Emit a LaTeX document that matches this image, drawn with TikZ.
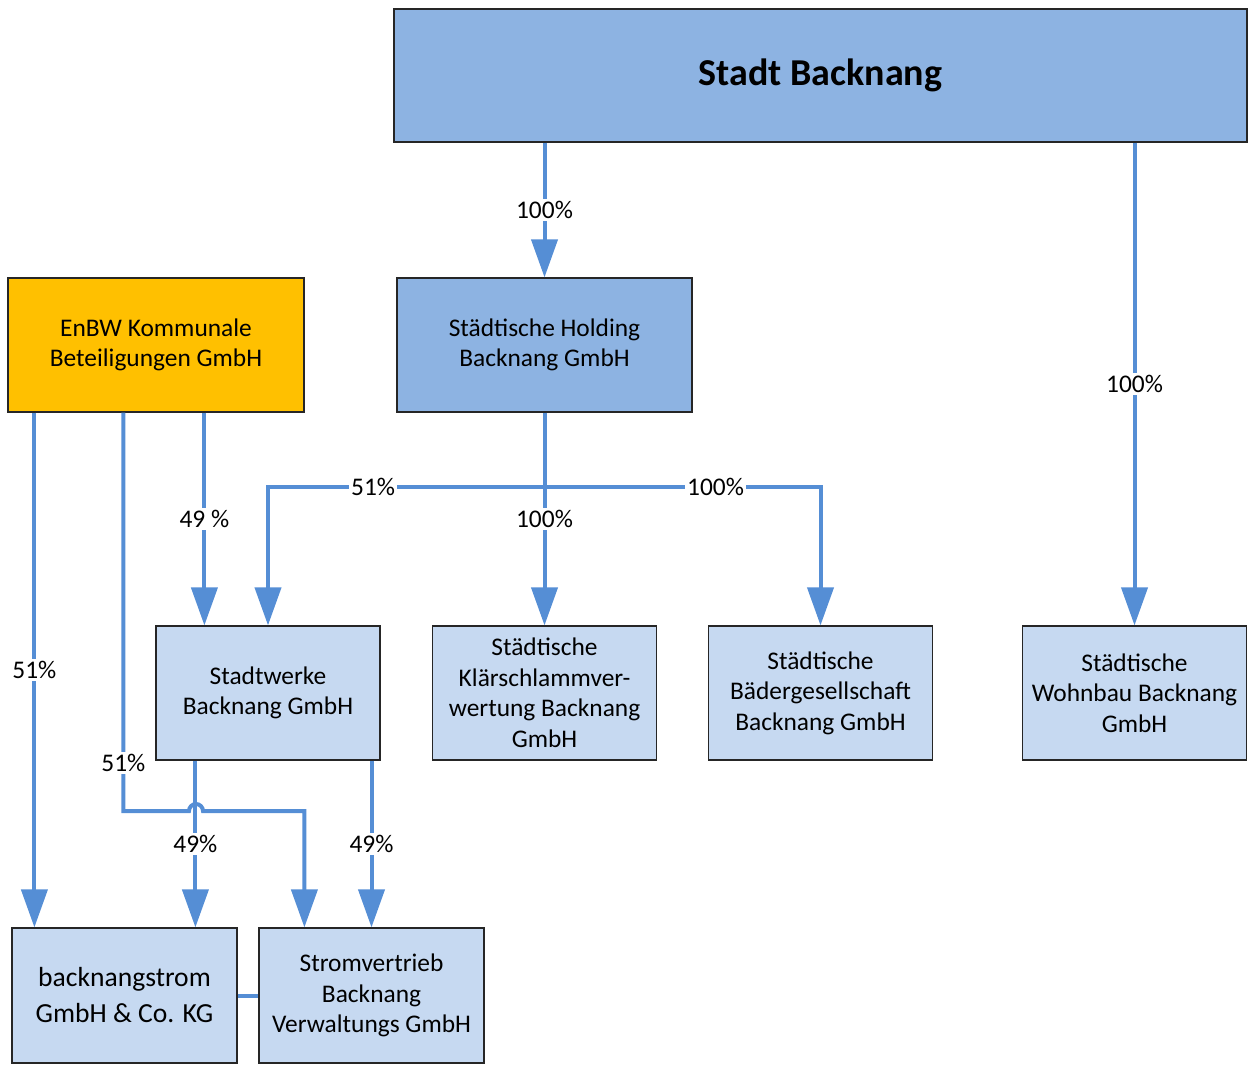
\documentclass[tikz,border=0pt]{standalone}
\usepackage{fontspec}
\setmainfont{Carlito}
\usetikzlibrary{arrows.meta, positioning}
\definecolor{darkblue}{HTML}{8DB3E2}
\definecolor{lightblue}{HTML}{C6D9F1}
\definecolor{enbwyellow}{HTML}{FFC000}
\definecolor{lineblue}{HTML}{558ED5}

\begin{document}
\begin{tikzpicture}[x=0.5pt,y=-0.5pt,
  every node/.style={font=\fontsize{12.7}{15.25}\selectfont},
  box/.style={draw=black!85,line width=0.6pt,align=center,inner sep=0pt,minimum width=112pt,minimum height=67pt},
  dark/.style={box,fill=darkblue},
  light/.style={box,fill=lightblue},
  conn/.style={draw=lineblue,line width=2pt},
  arr/.style={conn,-{Triangle[width=13pt,length=19pt]}},
  lbl/.style={fill=white,inner sep=1pt}]
\useasboundingbox (0,0) rectangle (1256,1064);
\node[dark,minimum width=426.5pt,minimum height=66.5pt,font=\fontsize{19}{22}\selectfont\bfseries] (stadt) at (820.5,75.5) {Stadt Backnang};
\node[box,fill=enbwyellow,minimum width=148pt] (enbw) at (156,345) {EnBW Kommunale\\Beteiligungen GmbH};
\node[dark,minimum width=147.5pt] (hold) at (544.5,345) {Städtische Holding\\Backnang GmbH};
\node[light] (sw) at (268,693) {Stadtwerke\\Backnang GmbH};
\node[light] (ks) at (544.5,693) {Städtische\\Klärschlammver-\\wertung Backnang\\GmbH};
\node[light] (bad) at (820.5,693) {Städtische\\Bädergesellschaft\\Backnang GmbH};
\node[light] (wb) at (1134.5,693) {Städtische\\Wohnbau Backnang\\GmbH};
\node[light,minimum width=112.5pt,minimum height=67.5pt,font=\fontsize{13.8}{18}\selectfont] (bs) at (124.5,995.5) {backnangstrom\\GmbH \& Co. KG};
\node[light,minimum width=112.5pt,minimum height=67.5pt] (sv) at (371.5,995.5) {Stromvertrieb\\Backnang\\Verwaltungs GmbH};

\draw[arr] (hold.north |- stadt.south) -- node[lbl]{100\%} (hold.north);
\draw[arr] (wb.north |- stadt.south) -- node[lbl]{100\%} (wb.north);
\draw[arr] (hold.south) -- node[lbl]{100\%} (ks.north);
\coordinate (hj) at (544.5,487);
\draw[arr] (hj) -| node[lbl,pos=0.31]{51\%} (sw.north);
\draw[arr] (hj) -| node[lbl,pos=0.31]{100\%} (bad.north);

\coordinate (e1) at ([xshift=13.5pt]enbw.south west);
\coordinate (e2) at ([xshift=58pt]enbw.south west);
\coordinate (e3) at ([xshift=98.5pt]enbw.south west);
\coordinate (hop) at (189,811);
\draw[arr] (e1) -- node[lbl]{51\%} (e1 |- bs.north);
\draw[arr] (e3) -- node[lbl]{49 \%} (e3 |- sw.north);
\draw[arr] (e2) |- node[lbl,pos=0.44]{51\%} (hop) arc[start angle=180,end angle=0,radius=3.5pt] -| ([xshift=23pt]sv.north west);

\coordinate (s1) at ([xshift=20pt]sw.south west);
\draw[arr] (s1) -- node[lbl]{49\%} (s1 |- bs.north);
\draw[arr] (sv.north |- sw.south) -- node[lbl]{49\%} (sv.north);
\draw[conn] (bs.east) -- (sv.west);
\end{tikzpicture}
\end{document}
